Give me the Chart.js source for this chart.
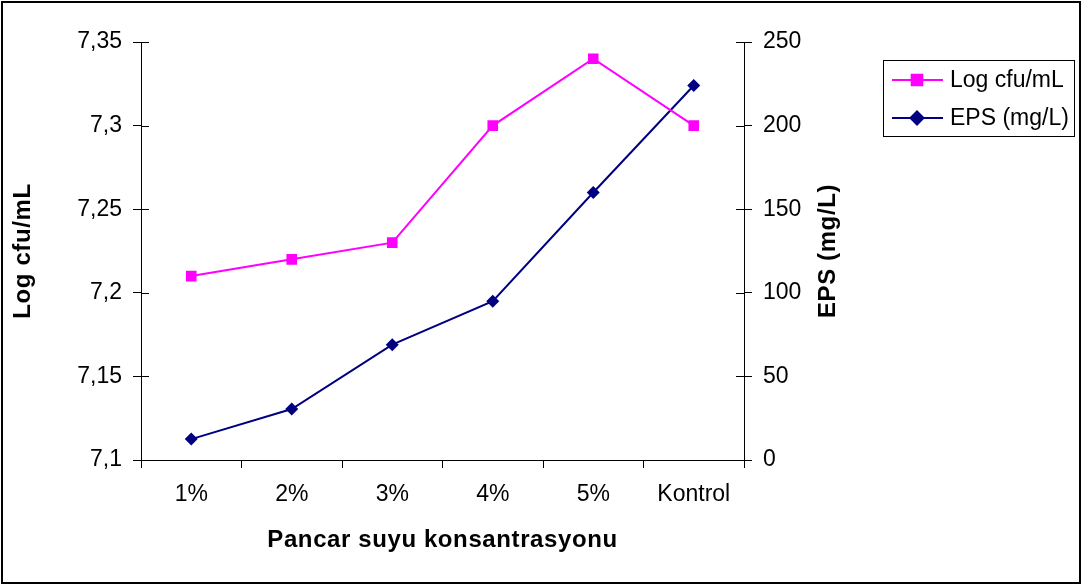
<!DOCTYPE html>
<html>
<head>
<meta charset="utf-8">
<script src="https://cdn.jsdelivr.net/npm/chart.js@4/dist/chart.umd.min.js"></script>
<style>
  html, body { margin: 0; padding: 0; background: #fff; }
  #wrap { width: 1082px; height: 585px; position: relative; }
</style>
</head>
<body>
<div id="wrap"><canvas id="chart" width="1082" height="585"></canvas></div>
<script>
const categories = ['1%', '2%', '3%', '4%', '5%', 'Kontrol'];
const logCfu = [7.21, 7.22, 7.23, 7.30, 7.34, 7.30];
const eps = [12.5, 30.5, 69, 95, 160, 224];

const FONT = "'Liberation Sans', Arial, sans-serif";

// frame, axis titles, inward tick marks and the boxed legend
const decorations = {
    id: 'decorations',
    afterDraw(chart) {
        const ctx = chart.ctx;
        const area = chart.chartArea;
        ctx.save();

        // y ticks cross the axis line
        ctx.strokeStyle = '#000';
        ctx.lineWidth = 1;
        const left = chart.scales.y, right = chart.scales.y1;
        left.ticks.forEach((t, i) => {
            const py = Math.round(left.getPixelForTick(i)) + 0.5;
            ctx.beginPath(); ctx.moveTo(area.left, py); ctx.lineTo(area.left + 8, py); ctx.stroke();
        });
        right.ticks.forEach((t, i) => {
            const py = Math.round(right.getPixelForTick(i)) + 0.5;
            ctx.beginPath(); ctx.moveTo(area.right - 8, py); ctx.lineTo(area.right, py); ctx.stroke();
        });

        // axis titles
        ctx.fillStyle = '#000';
        ctx.font = 'bold 24px ' + FONT;
        ctx.letterSpacing = '0.6px';
        ctx.textAlign = 'center';
        ctx.textBaseline = 'middle';
        const midY = (area.top + area.bottom) / 2;
        ctx.save(); ctx.translate(23, midY); ctx.rotate(-Math.PI / 2);
        ctx.fillText('Log cfu/mL', 0, 0); ctx.restore();
        ctx.save(); ctx.translate(828, midY); ctx.rotate(-Math.PI / 2);
        ctx.fillText('EPS (mg/L)', 0, 0); ctx.restore();
        ctx.fillText('Pancar suyu konsantrasyonu', (area.left + area.right) / 2, 540);
        ctx.letterSpacing = '0px';

        // legend
        ctx.strokeStyle = '#000';
        ctx.lineWidth = 1;
        ctx.strokeRect(883.5, 60.5, 191, 76);
        ctx.font = '23px ' + FONT;
        ctx.textAlign = 'left';
        const rows = [80, 118];
        chart.data.datasets.forEach((ds, i) => {
            const y = rows[i];
            ctx.strokeStyle = ds.borderColor;
            ctx.lineWidth = 2;
            ctx.beginPath(); ctx.moveTo(892, y); ctx.lineTo(943, y); ctx.stroke();
            Chart.helpers.drawPoint(ctx, {
                pointStyle: ds.pointStyle, radius: ds.pointRadius, borderWidth: 1
            }, 917, y);
            ctx.fillStyle = ds.borderColor;
            ctx.fill();
            ctx.fillStyle = '#000';
            ctx.fillText(ds.label, 950, y + 1);
        });

        // outer frame
        ctx.strokeStyle = '#000';
        ctx.lineWidth = 2;
        ctx.strokeRect(2, 2, 1078, 581);
        ctx.restore();
    }
};

new Chart(document.getElementById('chart'), {
    type: 'line',
    data: {
        labels: categories,
        datasets: [{
            label: 'Log cfu/mL',
            data: logCfu,
            yAxisID: 'y',
            borderColor: '#ff00ff',
            backgroundColor: '#ff00ff',
            borderWidth: 2,
            pointStyle: 'rect',
            pointRadius: 7.5,
            pointBorderWidth: 0,
            tension: 0
        }, {
            label: 'EPS (mg/L)',
            data: eps,
            yAxisID: 'y1',
            borderColor: '#000080',
            backgroundColor: '#000080',
            borderWidth: 2,
            pointStyle: 'rectRot',
            pointRadius: 6.5,
            pointBorderWidth: 0,
            tension: 0
        }]
    },
    options: {
        responsive: false,
        animation: false,
        layout: { padding: { top: 42, left: 0, right: 0, bottom: 0 } },
        plugins: { legend: { display: false }, tooltip: { enabled: false } },
        scales: {
            x: {
                offset: true,
                grid: { offset: true, drawOnChartArea: false, tickLength: 8, color: '#000' },
                border: { color: '#000', width: 1 },
                ticks: { color: '#000', font: { family: FONT, size: 23 }, padding: 13, maxRotation: 0 },
                afterFit(scale) { scale.height = 125; }
            },
            y: {
                position: 'left',
                min: 7.1, max: 7.35,
                grid: { drawOnChartArea: false, tickLength: 8, color: '#000' },
                border: { color: '#000', width: 1 },
                ticks: {
                    stepSize: 0.05, color: '#000', padding: 11,
                    font: { family: FONT, size: 23 },
                    callback: v => String(Number(v.toFixed(2))).replace('.', ',')
                },
                afterFit(scale) { scale.width = 141; }
            },
            y1: {
                position: 'right',
                min: 0, max: 250,
                grid: { drawOnChartArea: false, tickLength: 8, color: '#000' },
                border: { color: '#000', width: 1 },
                ticks: { stepSize: 50, color: '#000', padding: 11, font: { family: FONT, size: 23 } },
                afterFit(scale) { scale.width = 338; }
            }
        }
    },
    plugins: [decorations]
});
</script>
</body>
</html>
